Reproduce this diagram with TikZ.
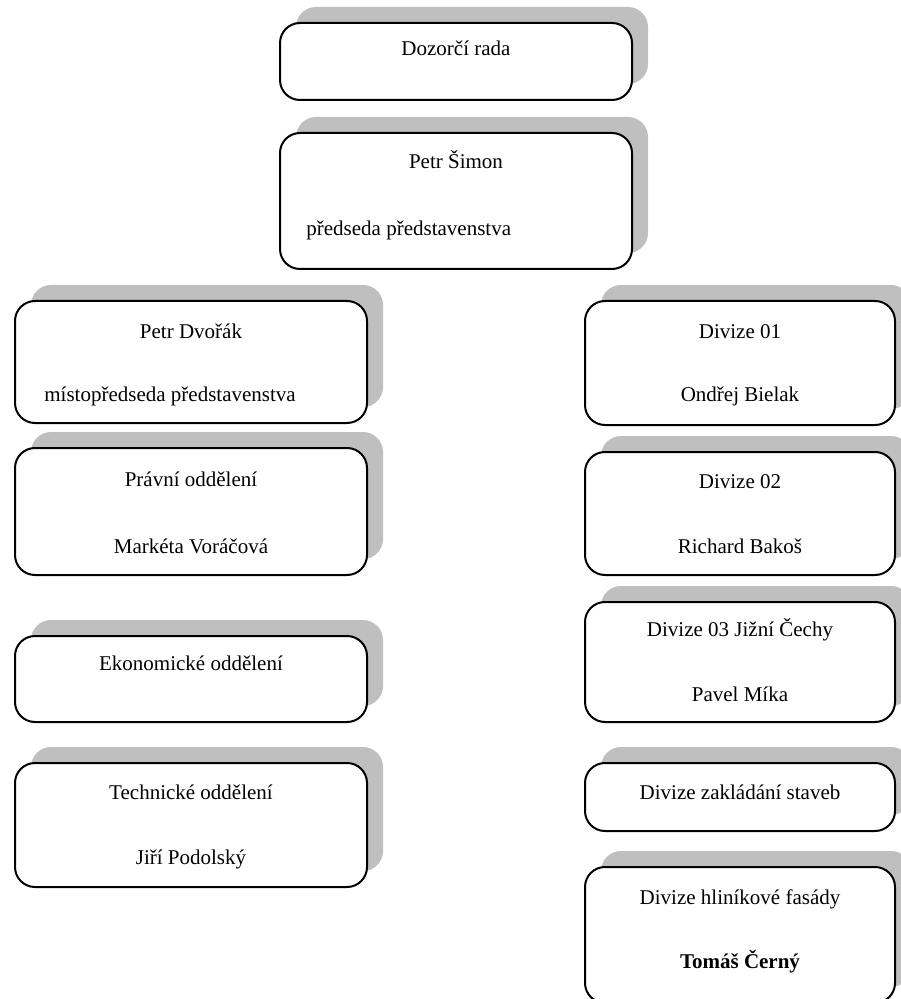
\documentclass[tikz,border=0pt]{standalone}
\usepackage{fontspec}
\setmainfont{Liberation Serif}
\usetikzlibrary{shadows}

\begin{document}
\begin{tikzpicture}[x=0.5pt,y=-0.5pt,
                    department/.style={draw,line width=1pt,rounded corners=10pt,fill=white,
                                       drop shadow={shadow xshift=8pt,shadow yshift=8pt,opacity=1,fill=black!25}},
                    board/.style={department,minimum width=176pt},
                    division/.style={department,minimum width=155pt},
                    department label/.style={anchor=base,inner sep=0pt,font=\fontsize{10.5}{12.6}\selectfont},
                    indented label/.style={department label,anchor=base west}]
  \useasboundingbox (0,0) rectangle (900,999);

  % top
  \node[board,minimum height=38.5pt] (dozor) at (456,61.5) {};
  \node[department label] (dozor-1) at ([yshift=-17pt]dozor.north) {Dozorčí rada};

  \node[board,minimum height=68pt] (simon) at (456,201) {};
  \node[department label] (simon-1) at ([yshift=-18.5pt]simon.north) {Petr Šimon};
  \node[indented label] (simon-2) at ([xshift=13.5pt,yshift=-52pt]simon.north west) {předseda představenstva};

  % left column
  \node[board,minimum height=61pt] (dvorak) at (191,362) {};
  \node[department label] (dvorak-1) at ([yshift=-19.5pt]dvorak.north) {Petr Dvořák};
  \node[indented label] (dvorak-2) at ([xshift=15pt,yshift=-50.5pt]dvorak.north west) {místopředseda představenstva};

  \node[board,minimum height=63.5pt] (pravni) at (191,511.5) {};
  \node[department label] (pravni-1) at ([yshift=-19.5pt]pravni.north) {Právní oddělení};
  \node[department label] (pravni-2) at ([yshift=-53pt]pravni.north) {Markéta Voráčová};

  \node[board,minimum height=43pt] (ekonom) at (191,679) {};
  \node[department label] (ekonom-1) at ([yshift=-17.5pt]ekonom.north) {Ekonomické oddělení};

  \node[board,minimum height=62pt] (tech) at (191,825) {};
  \node[department label] (tech-1) at ([yshift=-18.5pt]tech.north) {Technické oddělení};
  \node[department label] (tech-2) at ([yshift=-51pt]tech.north) {Jiří Podolský};

  % right column
  \node[division,minimum height=62pt] (div01) at (740,363) {};
  \node[department label] (div01-1) at ([yshift=-19.5pt]div01.north) {Divize 01};
  \node[department label] (div01-2) at ([yshift=-50.5pt]div01.north) {Ondřej Bielak};

  \node[division,minimum height=61.5pt] (div02) at (740,513.5) {};
  \node[department label] (div02-1) at ([yshift=-18.5pt]div02.north) {Divize 02};
  \node[department label] (div02-2) at ([yshift=-51pt]div02.north) {Richard Bakoš};

  \node[division,minimum height=60pt] (div03) at (740,662) {};
  \node[department label] (div03-1) at ([yshift=-17.5pt]div03.north) {Divize 03 Jižní Čechy};
  \node[department label] (div03-2) at ([yshift=-50pt]div03.north) {Pavel Míka};

  \node[division,minimum height=34pt] (zaklad) at (740,797) {};
  \node[department label] (zaklad-1) at ([yshift=-18.5pt]zaklad.north) {Divize zakládání staveb};

  \node[division,minimum height=68pt] (hlinik) at (740,935) {};
  \node[department label] (hlinik-1) at ([yshift=-19pt]hlinik.north) {Divize hliníkové fasády};
  \node[department label,font=\fontsize{10.5}{12.6}\selectfont\bfseries] (hlinik-2) at ([yshift=-51pt]hlinik.north) {Tomáš Černý};
\end{tikzpicture}
\end{document}
